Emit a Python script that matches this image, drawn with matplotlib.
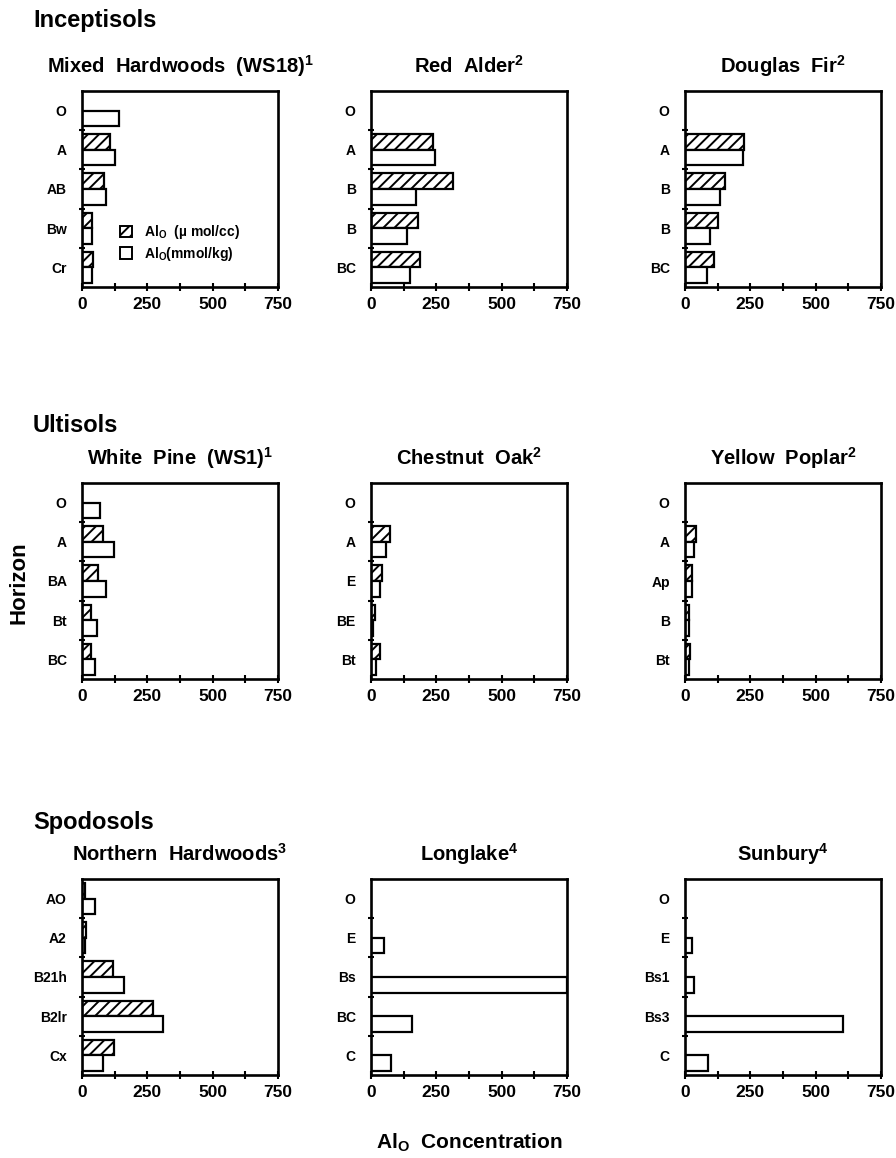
import numpy as np
import matplotlib
matplotlib.use("Agg")
import matplotlib.pyplot as plt
from matplotlib.patches import Patch

plt.rcParams['font.family'] = ['Liberation Sans', 'DejaVu Sans']
plt.rcParams['font.weight'] = 'bold'
plt.rcParams['hatch.linewidth'] = 1.4
plt.rcParams['mathtext.default'] = 'regular'

nan = np.nan

# ---------------- data ----------------
group_names = ["Inceptisols", "Ultisols", "Spodosols"]

titles = [
    "Mixed  Hardwoods  (WS18)$^{1}$", "Red  Alder$^{2}$", "Douglas  Fir$^{2}$",
    "White  Pine  (WS1)$^{1}$", "Chestnut  Oak$^{2}$", "Yellow  Poplar$^{2}$",
    "Northern  Hardwoods$^{3}$", "Longlake$^{4}$", "Sunbury$^{4}$",
]

horizons_mixed_hw = ["O", "A", "AB", "Bw", "Cr"]
horizons_red_alder = ["O", "A", "B", "B", "BC"]
horizons_douglas_fir = ["O", "A", "B", "B", "BC"]
horizons_white_pine = ["O", "A", "BA", "Bt", "BC"]
horizons_chestnut_oak = ["O", "A", "E", "BE", "Bt"]
horizons_yellow_poplar = ["O", "A", "Ap", "B", "Bt"]
horizons_northern_hw = ["AO", "A2", "B21h", "B2lr", "Cx"]
horizons_longlake = ["O", "E", "Bs", "BC", "C"]
horizons_sunbury = ["O", "E", "Bs1", "Bs3", "C"]

# Al_o (umol/cc) -- hatched bars
alo_cc_mixed_hw = [nan, 108, 85, 37, 43]
alo_cc_red_alder = [nan, 238, 315, 180, 187]
alo_cc_douglas_fir = [nan, 227, 154, 126, 110]
alo_cc_white_pine = [nan, 80, 61, 36, 36]
alo_cc_chestnut_oak = [nan, 72, 44, 15, 34]
alo_cc_yellow_poplar = [nan, 44, 28, 15, 21]
alo_cc_northern_hw = [13, 15, 118, 273, 121]
alo_cc_longlake = [nan, nan, nan, nan, nan]
alo_cc_sunbury = [nan, nan, nan, nan, nan]

# Al_o (mmol/kg) -- open bars
alo_kg_mixed_hw = [142, 127, 93, 38, 38]
alo_kg_red_alder = [nan, 245, 172, 138, 151]
alo_kg_douglas_fir = [nan, 221, 135, 95, 85]
alo_kg_white_pine = [67, 124, 90, 57, 50]
alo_kg_chestnut_oak = [nan, 59, 34, 9, 19]
alo_kg_yellow_poplar = [nan, 34, 28, 15, 15]
alo_kg_northern_hw = [51, 12, 159, 311, 82]
alo_kg_longlake = [nan, 49, 750, 157, 78]
alo_kg_sunbury = [nan, 26, 34, 605, 88]

horizons = [horizons_mixed_hw, horizons_red_alder, horizons_douglas_fir,
            horizons_white_pine, horizons_chestnut_oak, horizons_yellow_poplar,
            horizons_northern_hw, horizons_longlake, horizons_sunbury]
alo_cc = [alo_cc_mixed_hw, alo_cc_red_alder, alo_cc_douglas_fir,
          alo_cc_white_pine, alo_cc_chestnut_oak, alo_cc_yellow_poplar,
          alo_cc_northern_hw, alo_cc_longlake, alo_cc_sunbury]
alo_kg = [alo_kg_mixed_hw, alo_kg_red_alder, alo_kg_douglas_fir,
          alo_kg_white_pine, alo_kg_chestnut_oak, alo_kg_yellow_poplar,
          alo_kg_northern_hw, alo_kg_longlake, alo_kg_sunbury]

x_major = [0, 250, 500, 750]

# ---------------- layout ----------------
W, H = 896, 1158
fig = plt.figure(figsize=(W / 100, H / 100), dpi=100)
fig.patch.set_facecolor("white")

col_x = [82, 371, 685]
row_y = [91, 483, 879]
AW, AH = 196, 196


def rect(x0, y0, w, h):
    return [x0 / W, 1 - (y0 + h) / H, w / W, h / H]


def fx(x):
    return x / W


def fy(y):
    return 1 - y / H


bar_h = 0.4
for i in range(9):
    r, c = divmod(i, 3)
    ax = fig.add_axes(rect(col_x[c], row_y[r], AW, AH))
    n = len(horizons[i])
    pos = np.arange(n)
    cc = np.array(alo_cc[i], dtype=float)
    kg = np.array(alo_kg[i], dtype=float)
    m1 = ~np.isnan(cc)
    m2 = ~np.isnan(kg)
    ax.barh(pos[m1] - 0.2, cc[m1], height=bar_h, color="white",
            edgecolor="black", linewidth=1.6, hatch="///")
    ax.barh(pos[m2] + 0.2, kg[m2], height=bar_h, color="white",
            edgecolor="black", linewidth=1.6)
    ax.set_xlim(0, 750)
    ax.set_ylim(n - 0.5, -0.5)
    ax.set_xticks(x_major)
    ax.set_xticklabels([str(v) for v in x_major], fontsize=12.5, fontweight="bold")
    ax.set_xticks(np.arange(0, 751, 125), minor=True)
    ax.set_yticks(np.arange(0.5, n - 0.5, 1.0))
    ax.set_yticklabels([])
    ax.set_yticks(pos, minor=True)
    ax.set_yticklabels(horizons[i], minor=True, fontsize=10, fontweight="bold")
    ax.tick_params(axis="y", which="minor", length=0, pad=11)
    ax.tick_params(axis="y", which="major", direction="inout", length=5, width=1.5)
    ax.tick_params(axis="x", which="both", direction="inout", length=6, width=1.5, pad=4)
    for s in ax.spines.values():
        s.set_linewidth(1.9)
    # panel title
    fig.text(fx(col_x[c] + AW / 2), fy(row_y[r] - 25), titles[i],
             ha="center", va="center", fontsize=14.5, fontweight="bold")
    if i == 0:
        handles = [Patch(facecolor="white", edgecolor="black", hatch="///", linewidth=1.4),
                   Patch(facecolor="white", edgecolor="black", linewidth=1.4)]
        labels = ["Al$_{O}$  (µ mol/cc)", "Al$_{O}$(mmol/kg)"]
        ax.legend(handles, labels, loc="upper left", bbox_to_anchor=(0.13, 0.39),
                  frameon=False, handlelength=0.9, handleheight=0.9,
                  handletextpad=0.8, labelspacing=0.25, prop={"size": 10, "weight": "bold"})

# group headers
for r, name in enumerate(group_names):
    fig.text(fx(33), fy([21, 426, 822][r]), name, ha="left", va="center",
             fontsize=17, fontweight="bold")

fig.text(fx(19), fy(583), "Horizon", rotation=90, ha="center", va="center",
         fontsize=16, fontweight="bold")
fig.text(fx(469), fy(1143), "Al$_{O}$  Concentration", ha="center", va="center",
         fontsize=15, fontweight="bold")

fig.savefig("out.png", dpi=100, facecolor="white")
